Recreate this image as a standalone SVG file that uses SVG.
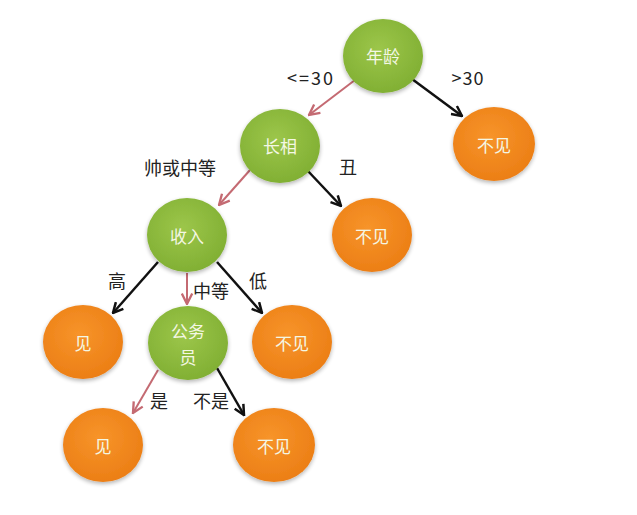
<svg xmlns="http://www.w3.org/2000/svg" width="637" height="515" viewBox="0 0 637 515">
<style>
.lbl{font-family:"Noto Sans CJK SC","Liberation Sans",sans-serif;font-size:18px;fill:#222;text-anchor:middle;dominant-baseline:central}
.ntx{font-family:"Noto Sans CJK SC","Liberation Sans",sans-serif;font-size:17px;fill:#F4F7E4;text-anchor:middle;dominant-baseline:central}
.g{fill:url(#gg);filter:url(#sh)}
.o{fill:url(#go);filter:url(#sh)}
.bk{stroke:#111;stroke-width:2.5;fill:none;marker-end:url(#mb)}
.rd{stroke:#C46A72;stroke-width:2;fill:none;marker-end:url(#mr)}
</style>
<defs>
<radialGradient id="gg" cx="0.45" cy="0.4" r="0.65">
<stop offset="0" stop-color="#9CC64A"/><stop offset="1" stop-color="#7FAE32"/>
</radialGradient>
<radialGradient id="go" cx="0.45" cy="0.4" r="0.65">
<stop offset="0" stop-color="#F7942A"/><stop offset="1" stop-color="#EB7D14"/>
</radialGradient>
<filter id="sh" x="-20%" y="-20%" width="140%" height="140%">
<feGaussianBlur in="SourceAlpha" stdDeviation="2"/><feOffset dx="0" dy="2"/>
<feComponentTransfer><feFuncA type="linear" slope="0.3"/></feComponentTransfer>
<feMerge><feMergeNode/><feMergeNode in="SourceGraphic"/></feMerge>
</filter>
<marker id="mb" viewBox="0 0 10 10" refX="9" refY="5" markerWidth="5" markerHeight="5" orient="auto" markerUnits="strokeWidth">
<path d="M1,1 L9,5 L1,9" fill="none" stroke="#111" stroke-width="2"/>
</marker>
<marker id="mr" viewBox="0 0 10 10" refX="9" refY="5" markerWidth="6.5" markerHeight="6.5" orient="auto" markerUnits="strokeWidth">
<path d="M1,1 L9,5 L1,9" fill="none" stroke="#C46A72" stroke-width="1.8"/>
</marker>
</defs>
<rect width="637" height="515" fill="#fff"/>
<g id="connectors">
<line class="rd" x1="355" y1="80" x2="309" y2="115"/>
<line class="bk" x1="412" y1="79" x2="462" y2="116"/>
<line class="rd" x1="250" y1="170" x2="219" y2="205"/>
<line class="bk" x1="307" y1="170" x2="341" y2="206"/>
<line class="bk" x1="158" y1="262" x2="113" y2="313"/>
<line class="rd" x1="187" y1="273" x2="187" y2="304"/>
<line class="bk" x1="217" y1="262" x2="262" y2="313"/>
<line class="rd" x1="158" y1="370" x2="133" y2="413"/>
<line class="bk" x1="217" y1="368" x2="244" y2="415"/>
</g>
<g id="labels">
<text class="lbl" x="311" y="77" letter-spacing="2">&lt;=30</text>
<text class="lbl" x="468" y="77" letter-spacing="1">&gt;30</text>
<text class="lbl" x="348" y="166">丑</text>
<text class="lbl" x="180" y="167">帅或中等</text>
<text class="lbl" x="117" y="280">高</text>
<text class="lbl" x="211" y="290">中等</text>
<text class="lbl" x="258" y="280">低</text>
<text class="lbl" x="159" y="400">是</text>
<text class="lbl" x="211" y="400">不是</text>
</g>
<g id="n-age"><ellipse class="g" cx="383" cy="56" rx="40" ry="37"/><text class="ntx" x="383" y="55">年龄</text></g>
<g id="n-looks"><ellipse class="g" cx="280" cy="146" rx="40" ry="37"/><text class="ntx" x="280" y="145">长相</text></g>
<g id="n-no1"><ellipse class="o" cx="494" cy="144" rx="41" ry="37"/><text class="ntx" x="494" y="144">不见</text></g>
<g id="n-income"><ellipse class="g" cx="187" cy="235" rx="40" ry="37"/><text class="ntx" x="187" y="235">收入</text></g>
<g id="n-no2"><ellipse class="o" cx="372" cy="235" rx="40" ry="37"/><text class="ntx" x="372" y="235">不见</text></g>
<g id="n-yes1"><ellipse class="o" cx="83" cy="342" rx="40" ry="37"/><text class="ntx" x="83" y="342">见</text></g>
<g id="n-civil"><ellipse class="g" cx="188" cy="343" rx="40" ry="37"/><text class="ntx" x="188" y="330">公务</text><text class="ntx" x="188" y="356">员</text></g>
<g id="n-no3"><ellipse class="o" cx="292" cy="342" rx="40" ry="37"/><text class="ntx" x="292" y="342">不见</text></g>
<g id="n-yes2"><ellipse class="o" cx="103" cy="445" rx="40" ry="37"/><text class="ntx" x="103" y="445">见</text></g>
<g id="n-no4"><ellipse class="o" cx="274" cy="445" rx="41" ry="37"/><text class="ntx" x="274" y="445">不见</text></g>
</svg>
